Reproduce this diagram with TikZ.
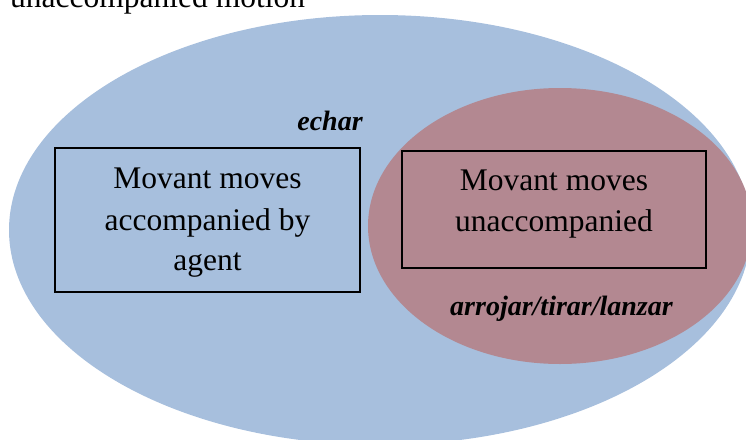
\documentclass[tikz,border=0pt]{standalone}
\usepackage{fontspec}
\setmainfont{Liberation Serif}
\definecolor{setblue}{RGB}{167,191,221}
\definecolor{setpink}{RGB}{179,136,145}
\tikzset{
  boxframe/.style={draw=black, line width=1.8pt, fill=none, inner sep=0pt},
  boxtext/.style={anchor=base, inner sep=0pt, font=\fontsize{31.5}{41}\selectfont},
  verbtext/.style={anchor=base, inner sep=0pt, font=\fontsize{28}{34}\selectfont\bfseries\itshape},
}
\begin{document}
\begin{tikzpicture}[x=1pt,y=-1pt]
\useasboundingbox (0,0) rectangle (746,439);
% sets
\fill[setblue] (380,230) ellipse [x radius=371pt, y radius=215pt];
\fill[setpink] (560,226) ellipse [x radius=192pt, y radius=138pt];
% title (cut off at the top)
\node[anchor=base west, inner sep=0pt, font=\fontsize{31.5}{41}\selectfont] (title) at (10,7) {unaccompanied motion};
% boxes
\node[boxframe, minimum width=305pt, minimum height=144pt] (acc) at (207.5,220) {};
\node[boxframe, minimum width=304pt, minimum height=117pt] (unacc) at (554,209.5) {};
% box texts
\node[boxtext] (acc1) at (207.5,188) {Movant moves};
\node[boxtext] (acc2) at (207.5,230) {accompanied by};
\node[boxtext] (acc3) at (207.5,270) {agent};
\node[boxtext] (un1) at (554,190) {Movant moves};
\node[boxtext] (un2) at (554,231) {unaccompanied};
% verb labels
\node[verbtext] (echar) at (330,130) {echar};
\node[verbtext] (arrojar) at (561.5,315) {arrojar/tirar/lanzar};
\end{tikzpicture}
\end{document}
